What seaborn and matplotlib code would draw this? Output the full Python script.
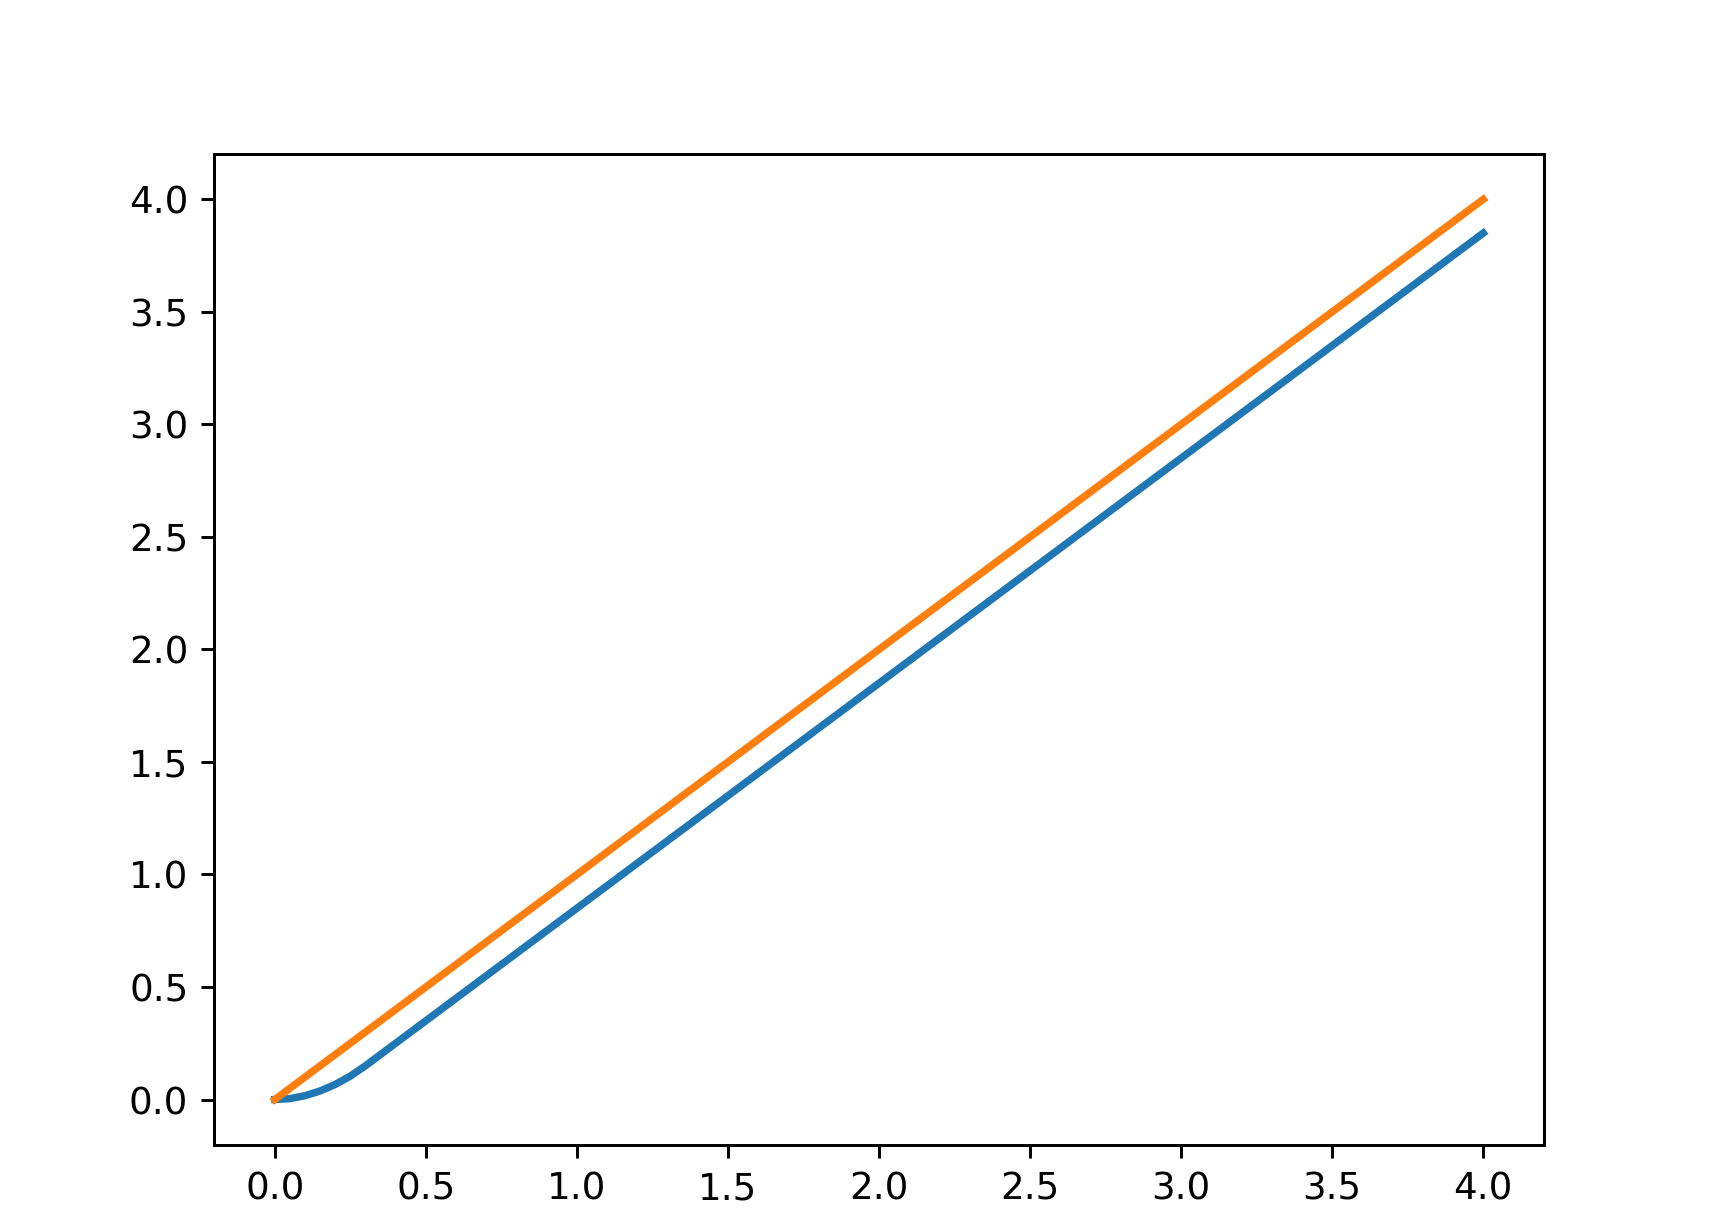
import matplotlib
matplotlib.use("Agg")
import matplotlib.pyplot as plt
import seaborn as sns
import pandas as pd


# values
x_blue = [0.0, 0.05, 0.1, 0.15, 0.2, 0.25, 0.3, 1.0, 2.0, 3.0, 4.0]
y_blue = [0.0, 0.004, 0.017, 0.038, 0.067, 0.104, 0.15, 0.85, 1.85, 2.85, 3.85]

x_orange = [0.0, 1.0, 2.0, 3.0, 4.0]
y_orange = [0.0, 1.0, 2.0, 3.0, 4.0]

df_blue = pd.DataFrame({"x": x_blue, "y": y_blue})
df_orange = pd.DataFrame({"x": x_orange, "y": y_orange})

fig = plt.figure(figsize=(6.4, 1219 / 268), dpi=268)
ax = fig.add_axes([0.125, 0.0611, 0.775, 0.8123])

sns.lineplot(data=df_blue, x="x", y="y", color="#1f77b4", linewidth=2, ax=ax)
sns.lineplot(data=df_orange, x="x", y="y", color="#ff7f0e", linewidth=2, ax=ax)

ax.set_xlabel("")
ax.set_ylabel("")
ax.set_xticks([0, 0.5, 1, 1.5, 2, 2.5, 3, 3.5, 4])
ax.set_yticks([0, 0.5, 1, 1.5, 2, 2.5, 3, 3.5, 4])

fig.savefig("out.png", dpi=268)
